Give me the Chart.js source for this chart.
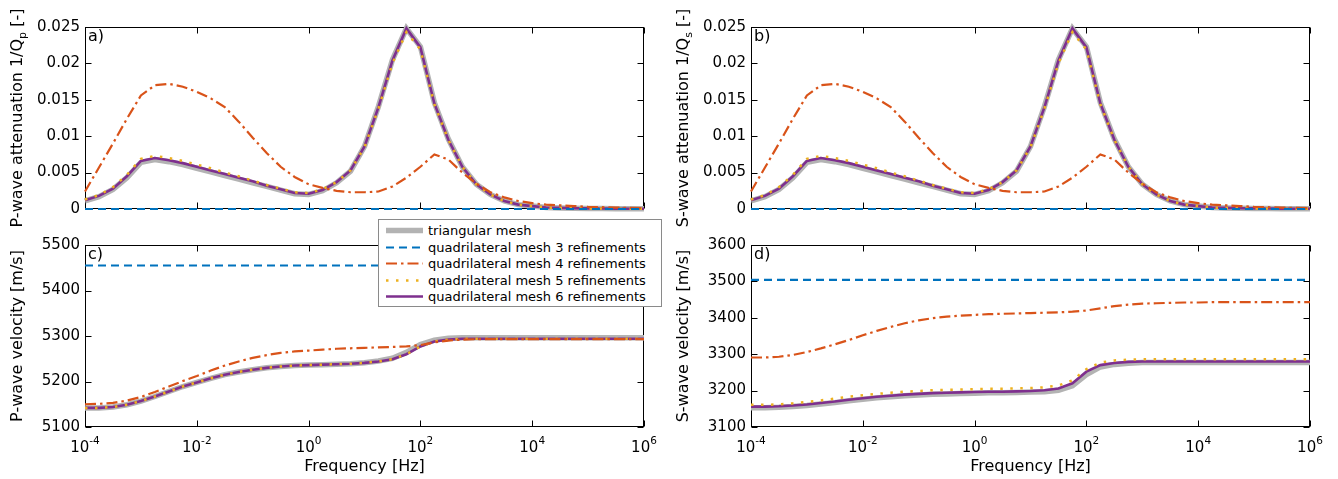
<!DOCTYPE html>
<html><head><meta charset="utf-8">
<script src="https://cdn.jsdelivr.net/npm/chart.js@4.4.1/dist/chart.umd.min.js"></script>
<style>
html,body{margin:0;padding:0;background:#fff;}
#wrap{position:relative;width:1338px;height:479px;overflow:hidden;background:#fff;}
canvas{position:absolute;left:0;top:0;}
#legend{position:absolute;left:378px;top:219px;width:282px;height:86px;border:1px solid #8a8a8a;background:#fff;font-family:'DejaVu Sans';font-size:13px;color:#000;z-index:5;}
.row{position:absolute;left:0;height:17px;width:100%;}
.row svg{position:absolute;left:7px;top:0;}
.row span{position:absolute;left:49px;top:0;line-height:17px;white-space:nowrap;}
</style></head><body>
<div id="wrap">
<canvas id="cA" width="1338" height="479"></canvas>
<canvas id="cB" width="1338" height="479"></canvas>
<canvas id="cC" width="1338" height="479"></canvas>
<canvas id="cD" width="1338" height="479"></canvas>
<div id="legend"></div>
</div>
<script>
// ---------------- DATA ----------------
const freq = [1e-4,1.778e-4,3.162e-4,5.623e-4, 1e-3,1.778e-3,3.162e-3,5.623e-3,
  1e-2,1.778e-2,3.162e-2,5.623e-2, 0.1,0.1778,0.3162,0.5623,
  1,1.778,3.162,5.623, 10,17.78,31.62,56.23,
  100,177.8,316.2,562.3, 1000,1778,3162,5623,
  1e4,17780,31620,56230, 1e5,177800,316200,562300, 1e6];
const freqEnds = [1e-4, 1e6];

const seriesNames = ['triangular mesh','quadrilateral mesh 3 refinements','quadrilateral mesh 4 refinements','quadrilateral mesh 5 refinements','quadrilateral mesh 6 refinements'];

// P-wave attenuation 1/Qp
const invQp_tri = [0.0011,0.0017,0.0027,0.0043, 0.0064,0.0068,0.0065,0.0061, 0.0056,0.0051,0.0046,0.0041, 0.0036,0.0031,0.0026,0.0021, 0.0020,0.0025,0.0036,0.0052, 0.0086,0.0141,0.0205,0.0248, 0.0223,0.0146,0.0096,0.0058, 0.0034,0.0020,0.0011,0.0006, 0.0004,0.0002,0.00015,0.0001, 0.00008,0.00006,0.00005,0.00004,0.00003];
const invQp_q3 = [0, 0];
const invQp_q4 = [0.0024,0.0057,0.0090,0.0124, 0.0156,0.0170,0.0172,0.0168, 0.0161,0.0152,0.0140,0.0120, 0.0098,0.0077,0.0058,0.0044, 0.0034,0.0029,0.0025,0.0023, 0.0023,0.0024,0.0031,0.0043, 0.0058,0.0075,0.0068,0.0050, 0.0035,0.0023,0.0016,0.0011, 0.0008,0.0006,0.0005,0.0004, 0.0003,0.00025,0.0002,0.00015,0.0001];
const invQp_q5 = [0.0013,0.0019,0.0030,0.0047, 0.0069,0.0073,0.0070,0.0066, 0.0061,0.0056,0.0050,0.0045, 0.0039,0.0033,0.0028,0.0023, 0.0022,0.0027,0.0037,0.0053, 0.0085,0.0138,0.0200,0.0243, 0.0219,0.0144,0.0095,0.0058, 0.0034,0.0020,0.0011,0.0006, 0.0004,0.0002,0.00015,0.0001, 0.00008,0.00006,0.00005,0.00004,0.00003];
const invQp_q6 = [0.0012,0.0018,0.0028,0.0045, 0.0066,0.0070,0.0067,0.0063, 0.0058,0.0053,0.0048,0.0043, 0.0038,0.0032,0.0027,0.0022, 0.0021,0.0026,0.0037,0.0053, 0.0086,0.0140,0.0204,0.0248, 0.0222,0.0145,0.0095,0.0058, 0.0034,0.0020,0.0011,0.0006, 0.0004,0.0002,0.00015,0.0001, 0.00008,0.00006,0.00005,0.00004,0.00003];

// S-wave attenuation 1/Qs
const invQs_tri = [0.0011,0.0017,0.0027,0.0043, 0.0064,0.0068,0.0065,0.0061, 0.0056,0.0051,0.0046,0.0041, 0.0036,0.0031,0.0026,0.0021, 0.0020,0.0025,0.0036,0.0052, 0.0086,0.0141,0.0205,0.0248, 0.0223,0.0146,0.0096,0.0058, 0.0034,0.0020,0.0011,0.0006, 0.0004,0.0002,0.00015,0.0001, 0.00008,0.00006,0.00005,0.00004,0.00003];
const invQs_q3 = [0, 0];
const invQs_q4 = [0.0024,0.0057,0.0090,0.0124, 0.0156,0.0170,0.0172,0.0168, 0.0161,0.0152,0.0140,0.0120, 0.0098,0.0077,0.0058,0.0044, 0.0034,0.0029,0.0025,0.0023, 0.0023,0.0024,0.0031,0.0043, 0.0058,0.0075,0.0068,0.0050, 0.0035,0.0023,0.0016,0.0011, 0.0008,0.0006,0.0005,0.0004, 0.0003,0.00025,0.0002,0.00015,0.0001];
const invQs_q5 = [0.0013,0.0019,0.0030,0.0047, 0.0069,0.0073,0.0070,0.0066, 0.0061,0.0056,0.0050,0.0045, 0.0039,0.0033,0.0028,0.0023, 0.0022,0.0027,0.0037,0.0053, 0.0085,0.0138,0.0200,0.0243, 0.0219,0.0144,0.0095,0.0058, 0.0034,0.0020,0.0011,0.0006, 0.0004,0.0002,0.00015,0.0001, 0.00008,0.00006,0.00005,0.00004,0.00003];
const invQs_q6 = [0.0012,0.0018,0.0028,0.0045, 0.0066,0.0070,0.0067,0.0063, 0.0058,0.0053,0.0048,0.0043, 0.0038,0.0032,0.0027,0.0022, 0.0021,0.0026,0.0037,0.0053, 0.0086,0.0140,0.0204,0.0248, 0.0222,0.0145,0.0095,0.0058, 0.0034,0.0020,0.0011,0.0006, 0.0004,0.0002,0.00015,0.0001, 0.00008,0.00006,0.00005,0.00004,0.00003];

// P-wave velocity [m/s]
const vp_tri = [5142,5142,5144,5149, 5157,5167,5178,5189, 5198,5207,5215,5221, 5226,5230,5233,5235, 5236,5237,5238,5239, 5241,5245,5251,5264, 5281,5291,5295,5296, 5296,5296,5296,5296, 5296,5296,5296,5296, 5296,5296,5296,5296,5296];
const vp_q3 = [5455, 5455];
const vp_q4 = [5150,5151,5153,5158, 5166,5177,5189,5201, 5212,5224,5235,5244, 5252,5258,5263,5266, 5268,5270,5272,5273, 5274,5275,5276,5277, 5280,5286,5290,5292, 5293,5293,5293,5293, 5293,5293,5293,5293, 5293,5293,5293,5293,5293];
const vp_q5 = [5142,5142,5144,5149, 5157,5167,5178,5189, 5198,5207,5215,5221, 5226,5230,5233,5235, 5236,5237,5238,5239, 5241,5244,5249,5260, 5277,5288,5292,5294, 5294,5294,5294,5294, 5294,5294,5294,5294, 5294,5294,5294,5294,5294];
const vp_q6 = [5142,5142,5144,5149, 5157,5167,5178,5189, 5198,5207,5215,5221, 5226,5230,5233,5235, 5236,5237,5238,5239, 5241,5244,5249,5260, 5277,5288,5292,5294, 5294,5294,5294,5294, 5294,5294,5294,5294, 5294,5294,5294,5294,5294];

// S-wave velocity [m/s]
const vs_tri = [3153,3153,3154,3156, 3159,3163,3167,3172, 3176,3180,3183,3186, 3188,3190,3191,3192, 3193,3194,3194,3195, 3196,3197,3201,3213, 3244,3265,3272,3275, 3277,3277,3277,3277, 3277,3277,3277,3277, 3277,3277,3277,3277,3277];
const vs_q3 = [3504, 3504];
const vs_q4 = [3291,3291,3293,3298, 3306,3316,3327,3339, 3352,3364,3375,3385, 3393,3399,3403,3406, 3408,3410,3411,3412, 3413,3414,3415,3417, 3420,3426,3432,3436, 3439,3440,3441,3442, 3442,3443,3443,3443, 3443,3443,3443,3443,3443];
const vs_q5 = [3161,3161,3162,3165, 3169,3173,3178,3183, 3187,3191,3194,3197, 3199,3201,3202,3203, 3204,3205,3205,3206, 3207,3209,3214,3228, 3259,3277,3283,3285, 3286,3286,3286,3286, 3286,3286,3286,3286, 3286,3286,3286,3286,3286];
const vs_q6 = [3156,3156,3157,3159, 3162,3166,3170,3175, 3179,3183,3186,3189, 3191,3193,3194,3195, 3196,3197,3197,3198, 3199,3201,3206,3220, 3252,3270,3276,3279, 3280,3280,3280,3280, 3280,3280,3280,3280, 3280,3280,3280,3280,3280];

// Tick values and labels
const xTickVals = [1e-4, 1e-2, 1, 1e2, 1e4, 1e6];
const xTickExp = ['-4', '-2', '0', '2', '4', '6'];
const yTicksAtt = [0, 0.005, 0.01, 0.015, 0.02, 0.025];
const yLabelsAtt = ['0', '0.005', '0.01', '0.015', '0.02', '0.025'];
const yTicksVp = [5100, 5200, 5300, 5400, 5500];
const yLabelsVp = ['5100', '5200', '5300', '5400', '5500'];
const yTicksVs = [3100, 3200, 3300, 3400, 3500, 3600];
const yLabelsVs = ['3100', '3200', '3300', '3400', '3500', '3600'];

// ---------------- STYLE ----------------
const FONT = "'DejaVu Sans'";
const styles = {
  tri: {color:'#B3B3B3', width:5.5, dash:[]},
  q3:  {color:'#0072BD', width:2.2, dash:[8,5]},
  q4:  {color:'#D95319', width:2.2, dash:[11,4,2.5,4]},
  q5:  {color:'#EDB120', width:2.5, dash:[2.5,7.5]},
  q6:  {color:'#7E2F8E', width:2.6, dash:[]}
};

function ds(name, key, xs, ys) {
  const s = styles[key];
  return {label:name, data: xs.map((f,i)=>({x:f, y:ys[i]})), borderColor:s.color, backgroundColor:s.color,
    borderWidth:s.width, borderDash:s.dash, pointRadius:0, tension:0, fill:false, clip:8};
}
function datasets(tri, q3, q4, q5, q6) {
  // index 0 is drawn on top
  return [
    ds(seriesNames[1], 'q3', freqEnds, q3),
    ds(seriesNames[2], 'q4', freq, q4),
    ds(seriesNames[3], 'q5', freq, q5),
    ds(seriesNames[4], 'q6', freq, q6),
    ds(seriesNames[0], 'tri', freq, tri)
  ];
}

const decor = {
  id: 'decor',
  beforeDatasetsDraw(chart) {
    const {ctx, chartArea: a} = chart;
    const xs = chart.scales.x, ys = chart.scales.y;
    ctx.save();
    ctx.strokeStyle = '#000'; ctx.lineWidth = 1; ctx.setLineDash([]);
    const L = Math.round(a.left)+0.5, R = Math.round(a.right)-0.5, T = Math.round(a.top)+0.5, B = Math.round(a.bottom)-0.5;
    ctx.strokeRect(L, T, R-L, B-T);
    ctx.beginPath();
    xTickVals.forEach(v => {
      const px = Math.round(xs.getPixelForValue(v)) + 0.5;
      ctx.moveTo(px, B); ctx.lineTo(px, B-6);
      ctx.moveTo(px, T); ctx.lineTo(px, T+6);
    });
    ys.ticks.forEach(t => {
      const py = Math.round(ys.getPixelForValue(t.value)) + 0.5;
      ctx.moveTo(L, py); ctx.lineTo(L+6, py);
      ctx.moveTo(R, py); ctx.lineTo(R-6, py);
    });
    ctx.stroke();
    ctx.restore();
  },
  afterDraw(chart, args, o) {
    const {ctx, chartArea: a} = chart;
    const xs = chart.scales.x;
    ctx.save();
    ctx.fillStyle = '#000';
    // x tick labels 10^n
    if (o.xLabels) {
      xTickVals.forEach((v, i) => {
        const px = xs.getPixelForValue(v);
        ctx.font = '15px ' + FONT;
        const wb = ctx.measureText('10').width;
        ctx.font = '10.5px ' + FONT;
        const we = ctx.measureText(xTickExp[i]).width;
        const x0 = px - (wb + we) / 2;
        ctx.textBaseline = 'alphabetic'; ctx.textAlign = 'left';
        ctx.font = '15px ' + FONT;
        ctx.fillText('10', x0, a.bottom + 25);
        ctx.font = '10.5px ' + FONT;
        ctx.fillText(xTickExp[i], x0 + wb, a.bottom + 16.5);
      });
    }
    // panel letter
    ctx.font = '16px ' + FONT; ctx.textBaseline = 'top'; ctx.textAlign = 'left';
    ctx.fillText(o.letter, a.left + 3, a.top + 2);
    // y title (rotated, with optional subscript)
    ctx.translate(o.titleX, (a.top + a.bottom) / 2);
    ctx.rotate(-Math.PI / 2);
    ctx.textBaseline = 'alphabetic';
    let total = 0;
    o.yTitle.forEach(p => { ctx.font = (p[1] ? '11px ' : '16px ') + FONT; total += ctx.measureText(p[0]).width; });
    let x = -total / 2;
    o.yTitle.forEach(p => {
      ctx.font = (p[1] ? '11px ' : '16px ') + FONT;
      ctx.fillText(p[0], x, p[1] ? 4 : 0);
      x += ctx.measureText(p[0]).width;
    });
    ctx.restore();
  }
};

function makeChart(id, o) {
  return new Chart(document.getElementById(id), {
    type: 'line',
    data: {datasets: o.datasets},
    options: {
      responsive: false, animation: false, events: [],
      layout: {padding: o.padding},
      plugins: {legend: {display: false}, tooltip: {enabled: false},
        decor: {letter: o.letter, yTitle: o.yTitle, titleX: o.titleX, xLabels: o.bottom}},
      scales: {
        x: {type: 'logarithmic', min: 1e-4, max: 1e6, display: o.bottom,
          afterBuildTicks: s => { s.ticks = xTickVals.map(v => ({value: v})); },
          afterFit: s => { s.height = o.bottom ? 52 : 0; },
          ticks: {display: false}, grid: {display: false, drawTicks: false}, border: {display: false},
          title: {display: o.bottom, text: 'Frequency [Hz]', color: '#000', font: {family: FONT, size: 16}, padding: {top: 0, bottom: 3}}},
        y: {type: 'linear', min: o.ymin, max: o.ymax,
          afterBuildTicks: s => { s.ticks = o.yTicks.map(v => ({value: v})); },
          afterFit: s => { s.width = 85; },
          ticks: {callback: (v, i) => o.yLabels[i], color: '#000', font: {family: FONT, size: 15}, padding: 5, autoSkip: false},
          grid: {display: false, drawTicks: false}, border: {display: false}}
      }
    },
    plugins: [decor]
  });
}

makeChart('cA', {padding: {left: 0, top: 27, right: 694, bottom: 270}, bottom: false, letter: 'a)',
  ymin: 0, ymax: 0.025, yTicks: yTicksAtt, yLabels: yLabelsAtt, titleX: 22,
  yTitle: [['P-wave attenuation 1/Q', 0], ['p', 1], [' [-]', 0]],
  datasets: datasets(invQp_tri, invQp_q3, invQp_q4, invQp_q5, invQp_q6)});
makeChart('cB', {padding: {left: 666, top: 27, right: 28, bottom: 270}, bottom: false, letter: 'b)',
  ymin: 0, ymax: 0.025, yTicks: yTicksAtt, yLabels: yLabelsAtt, titleX: 688,
  yTitle: [['S-wave attenuation 1/Q', 0], ['s', 1], [' [-]', 0]],
  datasets: datasets(invQs_tri, invQs_q3, invQs_q4, invQs_q5, invQs_q6)});
makeChart('cC', {padding: {left: 0, top: 245, right: 694, bottom: 0}, bottom: true, letter: 'c)',
  ymin: 5100, ymax: 5500, yTicks: yTicksVp, yLabels: yLabelsVp, titleX: 22,
  yTitle: [['P-wave velocity [m/s]', 0]],
  datasets: datasets(vp_tri, vp_q3, vp_q4, vp_q5, vp_q6)});
makeChart('cD', {padding: {left: 666, top: 245, right: 28, bottom: 0}, bottom: true, letter: 'd)',
  ymin: 3100, ymax: 3600, yTicks: yTicksVs, yLabels: yLabelsVs, titleX: 688,
  yTitle: [['S-wave velocity [m/s]', 0]],
  datasets: datasets(vs_tri, vs_q3, vs_q4, vs_q5, vs_q6)});

// ---------------- LEGEND ----------------
const legendKeys = ['tri', 'q3', 'q4', 'q5', 'q6'];
const rowCenters = [10.5, 27, 43.5, 60, 76.5];
const leg = document.getElementById('legend');
legendKeys.forEach((k, i) => {
  const s = styles[k];
  const row = document.createElement('div');
  row.className = 'row';
  row.style.top = (rowCenters[i] - 8.5) + 'px';
  row.innerHTML = '<svg width="38" height="17"><line x1="0" y1="8.5" x2="37" y2="8.5" stroke="' + s.color +
    '" stroke-width="' + s.width + '" stroke-dasharray="' + (s.dash.length ? s.dash.join(',') : 'none') + '"/></svg>' +
    '<span>' + seriesNames[i] + '</span>';
  leg.appendChild(row);
});
</script>
</body></html>
